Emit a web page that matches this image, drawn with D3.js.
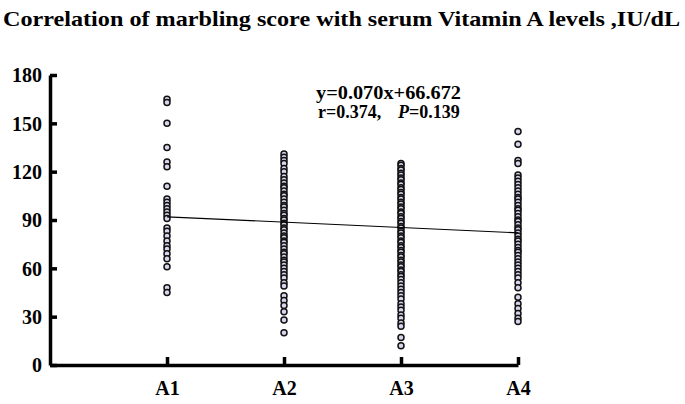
<!DOCTYPE html>
<html>
<head>
<meta charset="utf-8">
<script src="https://cdn.jsdelivr.net/npm/d3@7"></script>
<style>
  html, body { margin: 0; padding: 0; background: #fff; }
  svg { display: block; }
  text { font-family: "Liberation Serif", "Times New Roman", serif; font-weight: bold; fill: #000; }
</style>
</head>
<body>
<svg id="chart" width="685" height="404"></svg>
<script>
// ── Data ──────────────────────────────────────────────────────────────────────
const categories = ['A1', 'A2', 'A3', 'A4'];
const yTicks = [0, 30, 60, 90, 120, 150, 180];

const a1 = [165, 163, 150, 135, 126, 123, 111, 103, 101, 99, 97, 95, 93, 91,
            85, 83, 80, 77, 74, 72, 69, 66, 61, 48, 45];
const a2 = [131, 129, 127, 125, 122, 120, 117, 115, 113, 111, 110, 108, 106, 105,
            103, 101, 99, 98, 96, 94, 93, 91, 90, 88, 87, 85, 84, 82, 80, 79, 77,
            76, 74, 72, 70, 69, 67, 65, 64, 62, 60, 58, 56, 54, 51, 49, 43, 40,
            37, 33, 28, 20];
const a3 = [125, 124, 122, 121, 119, 118, 116, 115, 113, 112, 110, 109, 107, 106,
            104, 103, 101, 100, 98, 97, 95, 94, 92, 91, 89, 88, 86, 85, 83, 82,
            80, 79, 77, 76, 74, 73, 71, 70, 68, 67, 65, 64, 62, 61, 59, 58, 56,
            55, 53, 51, 49, 47, 45, 43, 41, 38, 36, 34, 31, 29, 26, 24, 17, 12];
const a4 = [145, 137, 127, 125, 118, 116, 114, 112, 110, 108, 106, 104, 103, 101,
            99, 97, 96, 94, 92, 90, 89, 87, 85, 84, 82, 80, 78, 77, 75, 73, 71,
            70, 68, 66, 64, 62, 60, 58, 56, 54, 51, 48, 42, 38, 35, 32, 29, 27];
const seriesValues = [a1, a2, a3, a4];

// fitted line, read at A1 and A4
const fitX = [1, 4];
const fitY = [92, 82];

// ── Layout ────────────────────────────────────────────────────────────────────
const svg = d3.select('#chart');

const x = d3.scaleLinear().domain([0, 4]).range([50, 518]);
const y = d3.scaleLinear().domain([0, 180]).range([365, 75]);

// Title
svg.append('text')
  .attr('x', 3).attr('y', 26)
  .attr('font-size', 21)
  .attr('textLength', 677)
  .attr('lengthAdjust', 'spacingAndGlyphs')
  .text('Correlation of marbling score with serum Vitamin A levels ,IU/dL');

// Axes
const yAxis = svg.append('g')
  .attr('transform', `translate(${x(0)},0)`)
  .call(d3.axisLeft(y).tickValues(yTicks).tickSize(-7).tickSizeOuter(0));

const xAxis = svg.append('g')
  .attr('transform', `translate(0,${y(0)})`)
  .call(d3.axisBottom(x).tickValues([1, 2, 3, 4]).tickSize(-8).tickSizeOuter(0)
    .tickFormat(d => categories[d - 1]));

[yAxis, xAxis].forEach(a => {
  a.select('.domain').attr('stroke', '#000').attr('stroke-width', 3.5);
  a.selectAll('.tick line').attr('stroke', '#000').attr('stroke-width', 3.5);
  a.selectAll('.tick text')
    .attr('font-size', 20)
    .attr('fill', '#000');
});
yAxis.selectAll('.tick text').attr('x', -8).attr('dy', '0.34em');
xAxis.selectAll('.tick text').attr('y', 16).attr('dy', '0.71em');

// Points
const pts = [];
seriesValues.forEach((vals, i) => vals.forEach(v => pts.push({ c: i + 1, v })));

svg.append('g')
  .selectAll('circle')
  .data(pts)
  .join('circle')
  .attr('cx', d => x(d.c))
  .attr('cy', d => y(d.v))
  .attr('r', 3)
  .attr('fill', '#dcd3ee')
  .attr('stroke', '#111')
  .attr('stroke-width', 1.5);

// Fit line
svg.append('path')
  .datum(fitX.map((d, i) => [d, fitY[i]]))
  .attr('d', d3.line().x(d => x(d[0])).y(d => y(d[1])))
  .attr('stroke', '#000')
  .attr('stroke-width', 1.2)
  .attr('fill', 'none');

// Annotation
svg.append('text')
  .attr('x', 316).attr('y', 99)
  .attr('font-size', 18)
  .attr('textLength', 145)
  .attr('lengthAdjust', 'spacingAndGlyphs')
  .text('y=0.070x+66.672');

const t2 = svg.append('text')
  .attr('x', 318).attr('y', 118)
  .attr('font-size', 18);
t2.append('tspan').text('r=0.374,');
t2.append('tspan').attr('x', 398).attr('font-style', 'italic').text('P');
t2.append('tspan').text('=0.139');
</script>
</body>
</html>
